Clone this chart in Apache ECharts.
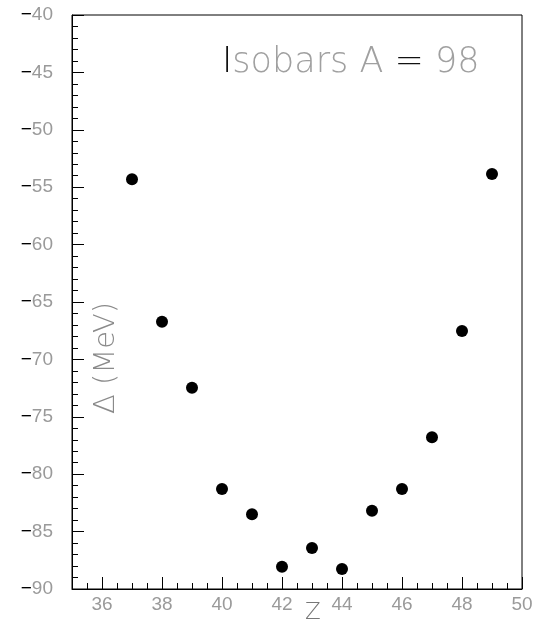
<!DOCTYPE html>
<html>
<head>
<meta charset="utf-8">
<script src="https://cdn.jsdelivr.net/npm/echarts@6/dist/echarts.min.js"></script>
<style>html,body{margin:0;padding:0;background:#fff;}#c{width:537px;height:623px;}</style>
</head>
<body>
<div id="c"></div>
<script>
// Data
const Z = [37, 38, 39, 40, 41, 42, 43, 44, 45, 46, 47, 48, 49];
const massExcess = [-54.31, -66.72, -72.46, -81.29, -83.49, -88.06, -86.43, -88.26, -83.18, -81.29, -76.79, -67.53, -53.85];
const xTickLabels = [36, 38, 40, 42, 44, 46, 48, 50];
const yTickLabels = [-90, -85, -80, -75, -70, -65, -60, -55, -50, -45, -40];
const titleText = 'Isobars A = 98';
const xTitle = 'Z';
const yTitle = 'Δ (MeV)';

const points = Z.map((z, i) => [z, massExcess[i]]);
const gray = '#9a9a9a';
const fontFam = '"Liberation Sans", "DejaVu Sans", sans-serif';
const wideFam = '"DejaVu Sans", sans-serif';

const chart = echarts.init(document.getElementById('c'), null, {renderer: 'canvas'});
chart.setOption({
  animation: false,
  backgroundColor: '#fff',
  grid: {left: 72, right: 15, top: 15, bottom: 34, show: true, borderColor: '#000', borderWidth: 1, backgroundColor: 'transparent'},
  xAxis: [
    {
      type: 'value', min: 35, max: 50, interval: 0.5,
      axisLine: {show: true, onZero: false, lineStyle: {color: '#000', width: 1}},
      axisTick: {show: true, inside: true, length: 6, lineStyle: {color: '#000', width: 1}},
      axisLabel: {show: false},
      splitLine: {show: false}
    },
    {
      type: 'value', min: 35, max: 50, position: 'bottom',
      axisLine: {show: false},
      axisTick: {show: true, inside: true, length: 12, customValues: xTickLabels, lineStyle: {color: '#000', width: 1}},
      axisLabel: {show: true, customValues: xTickLabels, color: gray, fontSize: 19, fontFamily: fontFam, margin: 6},
      splitLine: {show: false}
    }
  ],
  yAxis: {
    type: 'value', min: -90, max: -40, interval: 5,
    axisLine: {show: true, onZero: false, lineStyle: {color: '#000', width: 1}},
    axisTick: {show: true, inside: true, length: 12, lineStyle: {color: '#000', width: 1}},
    minorTick: {show: true, splitNumber: 5, length: 6, lineStyle: {color: '#000', width: 1}},
    axisLabel: {
      show: true, margin: 19, fontSize: 19, fontFamily: fontFam,
      formatter: v => (v < 0 ? '{m|−}' : '') + '{d|' + Math.abs(v) + '}',
      rich: {
        m: {color: '#000', fontSize: 19, fontFamily: fontFam},
        d: {color: gray, fontSize: 19, fontFamily: fontFam}
      }
    },
    splitLine: {show: false},
    minorSplitLine: {show: false}
  },
  series: [{
    type: 'scatter',
    xAxisIndex: 0,
    data: points,
    symbol: 'circle',
    symbolSize: 12,
    itemStyle: {color: '#000', opacity: 1}
  }],
  graphic: [
    {
      type: 'text', left: 222, top: 45,
      style: {
        text: '{b|I}{g|sobars A }{b|=}{g| 98}',
        rich: {
          b: {fill: '#111', fontSize: 35, fontFamily: wideFam, fontWeight: 200},
          g: {fill: '#a0a0a0', fontSize: 35, fontFamily: wideFam, fontWeight: 200}
        }
      }
    },
    {
      type: 'text', x: 106, y: 358, rotation: Math.PI / 2,
      style: {text: yTitle, fill: '#8a8a8a', fontSize: 29, fontFamily: wideFam, fontWeight: 200, align: 'center', verticalAlign: 'middle'}
    },
    {
      type: 'text', x: 313, y: 613,
      style: {text: xTitle, fill: '#777', fontSize: 23, fontFamily: wideFam, fontWeight: 200, align: 'center', verticalAlign: 'middle'}
    }
  ]
});
</script>
</body>
</html>
